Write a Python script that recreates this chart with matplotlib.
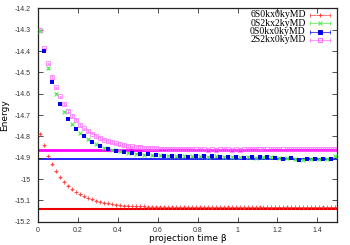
import matplotlib
matplotlib.use("Agg")
import matplotlib.pyplot as plt
import numpy as np

# projection time grids
beta_fine = np.round(0.01 + 0.02 * np.arange(75), 2)
beta_green = np.round(0.01 + 0.04 * np.arange(38), 2)
beta_blue = np.round(0.03 + 0.04 * np.arange(37), 2)

e_6S0 = [-14.787, -14.842, -14.892, -14.931, -14.964, -14.991, -15.012, -15.031, -15.048, -15.061,
         -15.072, -15.081, -15.089, -15.095, -15.101, -15.106, -15.111, -15.114, -15.117, -15.120,
         -15.122, -15.124, -15.125, -15.126, -15.127, -15.128, -15.128, -15.129, -15.129, -15.130,
         -15.130, -15.130, -15.131, -15.130, -15.131, -15.131, -15.130, -15.131, -15.131, -15.131,
         -15.130, -15.131, -15.131, -15.132, -15.131, -15.131, -15.131, -15.130, -15.131, -15.131,
         -15.131, -15.132, -15.131, -15.131, -15.131, -15.130, -15.131, -15.131, -15.132, -15.131,
         -15.131, -15.131, -15.130, -15.131, -15.131, -15.131, -15.132, -15.131, -15.131, -15.131,
         -15.131, -15.130, -15.131, -15.131, -15.131]

e_0S2 = [-14.305, -14.479, -14.600, -14.685, -14.744, -14.785, -14.814, -14.837, -14.853, -14.863,
         -14.870, -14.877, -14.881, -14.885, -14.888, -14.889, -14.891, -14.893, -14.892, -14.894,
         -14.893, -14.895, -14.894, -14.896, -14.897, -14.898, -14.896, -14.900, -14.898, -14.897,
         -14.901, -14.903, -14.906, -14.910, -14.907, -14.908, -14.905, -14.893]

e_0S0 = [-14.400, -14.545, -14.646, -14.717, -14.767, -14.800, -14.826, -14.845, -14.860, -14.867,
         -14.874, -14.879, -14.882, -14.884, -14.887, -14.890, -14.892, -14.894, -14.896, -14.892,
         -14.894, -14.893, -14.898, -14.895, -14.899, -14.903, -14.896, -14.895, -14.899, -14.902,
         -14.906, -14.902, -14.909, -14.905, -14.908, -14.907, -14.905]

e_2S2 = [-14.300, -14.388, -14.458, -14.521, -14.571, -14.613, -14.649, -14.680, -14.705, -14.724,
         -14.748, -14.763, -14.776, -14.787, -14.798, -14.807, -14.815, -14.822, -14.828, -14.833,
         -14.837, -14.841, -14.844, -14.847, -14.849, -14.851, -14.853, -14.854, -14.855, -14.856,
         -14.857, -14.857, -14.858, -14.859, -14.858, -14.859, -14.860, -14.859, -14.860, -14.861,
         -14.860, -14.861, -14.862, -14.861, -14.862, -14.861, -14.860, -14.861, -14.862, -14.861,
         -14.862, -14.861, -14.860, -14.859, -14.860, -14.861, -14.860, -14.861, -14.860, -14.859,
         -14.860, -14.861, -14.860, -14.859, -14.860, -14.859, -14.860, -14.859, -14.858, -14.859,
         -14.860, -14.859, -14.858, -14.859, -14.858]

# exact reference energies (horizontal lines)
exact_6S0 = -15.141
exact_0S0 = -14.906
exact_2S2 = -14.865

labels = ["6S0kx0kyMD", "0S2kx2kyMD", "0S0kx0kyMD", "2S2kx0kyMD"]
colors = ["#ff4040", "#44ee44", "#0000f0", "#ff66ff"]

fig = plt.figure(figsize=(3.5, 2.45), dpi=100)
ax = fig.add_axes([0.108, 0.095, 0.856, 0.871])

ax.axhline(exact_6S0, color="#ee0000", lw=1.5, zorder=1)
ax.axhline(exact_2S2, color="#ff00ff", lw=2.0, zorder=1)
ax.axhline(exact_0S0, color="#0000ff", lw=1.2, zorder=1)

ax.errorbar(beta_fine, e_6S0, yerr=0.002, fmt="+", ms=3.2, mew=0.6, color=colors[0],
            elinewidth=0.4, capsize=0.8, zorder=3)
ax.errorbar(beta_green, e_0S2, yerr=0.003, fmt="x", ms=2.4, mew=0.7, color=colors[1],
            elinewidth=0.5, capsize=1.0, zorder=3)
ax.errorbar(beta_blue, e_0S0, yerr=0.003, fmt="s", ms=2.7, mew=0, color=colors[2],
            elinewidth=0.5, capsize=1.0, zorder=4)
ax.errorbar(beta_fine, e_2S2, yerr=0.004, fmt="s", ms=3.0, mew=0.5, mfc="none",
            color=colors[3], elinewidth=0.5, capsize=1.0, zorder=2)

# gnuplot style key
key_y = [0.969, 0.930, 0.891, 0.852]
key_markers = [("+", "full"), ("x", "full"), ("s", "full"), ("s", "none")]
for lab, col, y, (mk, fill) in zip(labels, colors, key_y, key_markers):
    ax.text(0.894, y, lab, transform=ax.transAxes, ha="right", va="center",
            fontsize=7.0, family="Liberation Serif")
    ax.plot([0.908, 0.974], [y, y], transform=ax.transAxes, color=col, lw=0.6, alpha=0.8)
    ax.plot([0.908, 0.974], [y, y], transform=ax.transAxes, ls="none", marker="|",
            ms=3, mew=0.6, color=col, alpha=0.8)
    ax.plot([0.941], [y], transform=ax.transAxes, ls="none", marker=mk, ms=2.6,
            mew=0.7, color=col, mfc=("none" if fill == "none" else col))

ax.set_xlim(0, 1.5)
ax.set_ylim(-15.2, -14.2)
ax.set_xticks([0, 0.2, 0.4, 0.6, 0.8, 1.0, 1.2, 1.4])
ax.set_xticklabels(["0", "0.2", "0.4", "0.6", "0.8", "1", "1.2", "1.4"])
ax.set_yticks(np.round(np.arange(-15.2, -14.15, 0.1), 1))
ax.set_yticklabels(["-15.2", "-15.1", "-15", "-14.9", "-14.8", "-14.7", "-14.6",
                    "-14.5", "-14.4", "-14.3", "-14.2"])
ax.tick_params(direction="in", top=True, right=True, length=3.5, width=0.6,
               labelsize=5, colors="#333333")
ax.tick_params(axis="y", pad=5)
ax.tick_params(axis="x", pad=3.5)
for lbl in ax.get_xticklabels() + ax.get_yticklabels():
    lbl.set_family("Liberation Sans")
for sp in ax.spines.values():
    sp.set_linewidth(0.9)
    sp.set_color("#222222")

ax.set_xlabel("projection time β", fontsize=6.5, family="DejaVu Sans", labelpad=0.5)
ax.set_ylabel("Energy", fontsize=6.5, family="DejaVu Sans", labelpad=4)

fig.savefig("out.png", dpi=100)
